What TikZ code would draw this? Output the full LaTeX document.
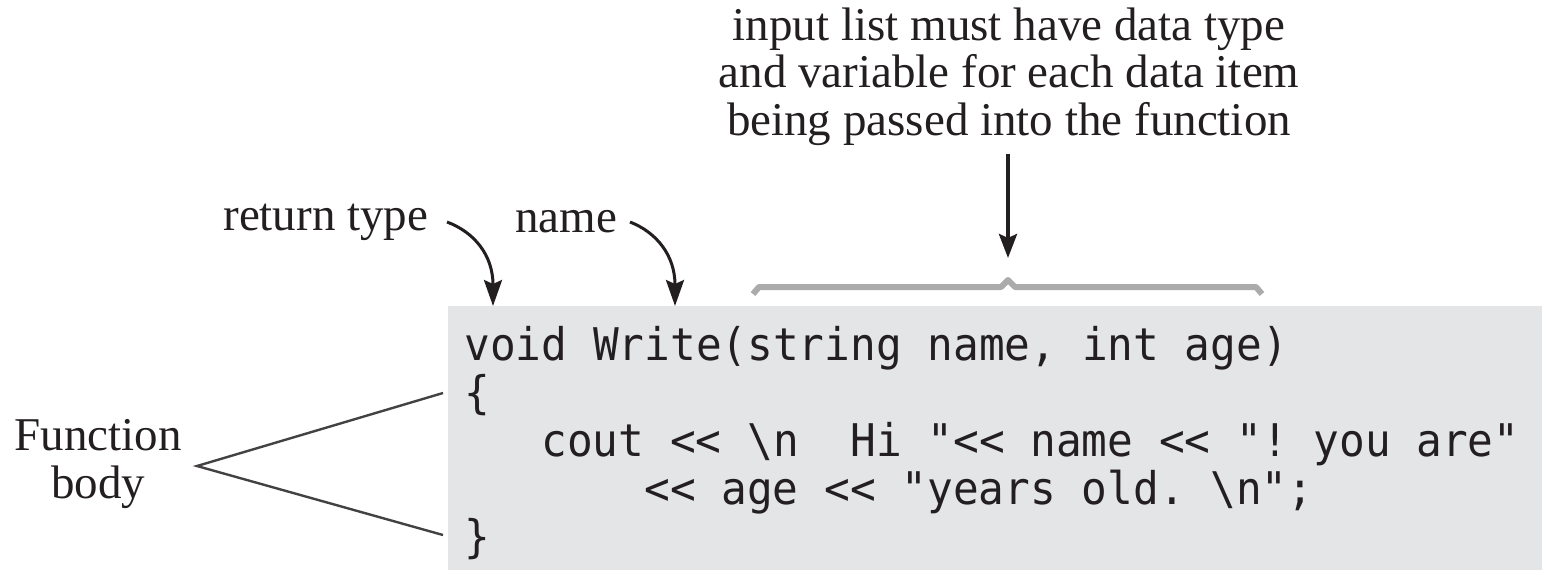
\documentclass[tikz,border=0pt]{standalone}
\usepackage{fontspec}
\setmainfont{Liberation Serif}
\newfontfamily\codefont[FakeStretch=0.95,Ligatures=TeXOff]{DejaVu Sans Mono}
\usetikzlibrary{arrows.meta}
\definecolor{ink}{HTML}{231F20}
\definecolor{codebg}{HTML}{E4E5E7}
\definecolor{bracegray}{HTML}{ABABAB}
\begin{document}
\begin{tikzpicture}[x=0.5pt,y=-0.5pt,
  lbl/.style={font=\fontsize{23.5}{23.75}\selectfont, text=ink, inner sep=0pt},
  codeline/.style={font=\codefont\fontsize{22.5}{24}\selectfont\frenchspacing, text=ink, inner sep=0pt, anchor=base west},
  pointer/.style={draw=ink, line width=1.5pt, -{Stealth[length=13pt,width=9pt,inset=2pt]}},
  downarrow/.style={draw=ink, line width=2pt, -{Stealth[length=12pt,width=9pt,inset=2pt]}},
  bodyline/.style={draw=ink!85, line width=1.2pt},
  bracebar/.style={draw=bracegray, line width=3pt, line join=round}
]
\useasboundingbox (0,0) rectangle (1542,570);
% code background
\fill[codebg] (448,306) rectangle (1542,570);

% code lines
\node[codeline] (l1) at (464,360) {void Write(string name, int age)};
\node[codeline] (l2) at (464,408) {\{};
\node[codeline] (l3) at (541.1,456) {cout << \textbackslash n~~Hi "<< name << "! you are"};
\node[codeline] (l4) at (643.9,504) {<< age << "years old. \textbackslash n";};
\node[codeline] (l5) at (464,552) {\}};

% top annotation (base = baseline of the last line)
\node[lbl, align=center, anchor=base] (inp) at (1009,135)
  {input list must have data type\\and variable for each data item\\being passed into the function};
\coordinate (inptail) at (1008,154);
\coordinate (bracetip) at (1008,258);
\draw[downarrow] (inptail) -- (bracetip);

% brace over the parameter list
\coordinate (bl) at (753,294);
\coordinate (br) at (1262,294);
\draw[bracebar] (bl) -- (759,287) -- (1001,287) -- (1008,280) -- (1015,287) -- (1256,287) -- (br);

% return type and name labels
\node[lbl, anchor=base west] (ret) at (223,230) {return type};
\node[lbl, anchor=base west] (nm) at (515,232) {name};
\coordinate (retstart) at (447,222);
\coordinate (rettip) at (493,306);
\coordinate (nmstart) at (630,222);
\coordinate (nmtip) at (675,306);
\draw[pointer] (retstart) .. controls (474,232) and (493,255) .. (rettip);
\draw[pointer] (nmstart) .. controls (656,232) and (675,255) .. (nmtip);

% function body
\node[lbl, align=center, anchor=base] (fb) at (98,498) {Function\\body};
\coordinate (apex) at (197,466);
\coordinate (open) at (443,393);
\coordinate (close) at (443,535);
\draw[bodyline] (open) -- (apex) -- (close);
\end{tikzpicture}
\end{document}
